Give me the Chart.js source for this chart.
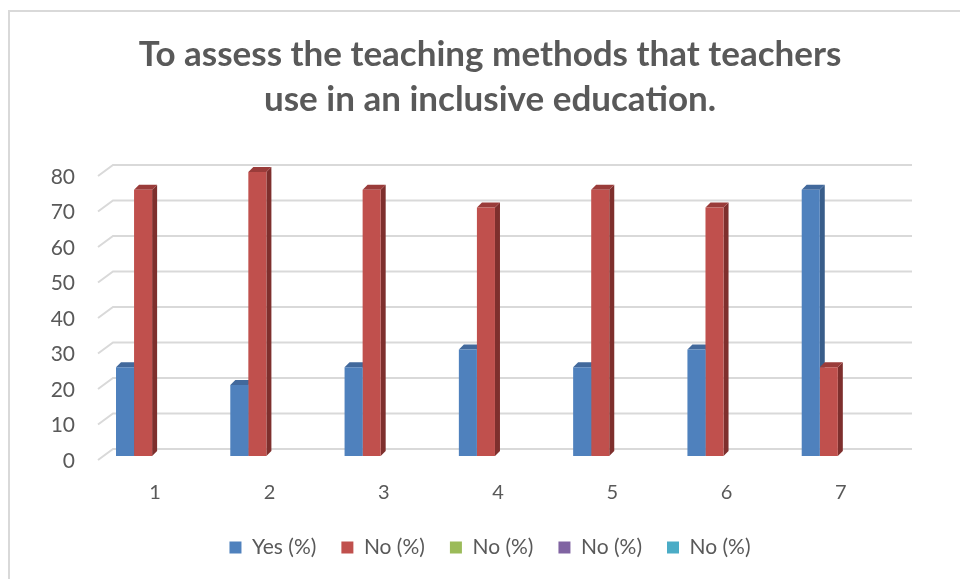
<!DOCTYPE html>
<html>
<head>
<meta charset="utf-8">
<script src="https://cdn.jsdelivr.net/npm/chart.js@4.4.0/dist/chart.umd.min.js"></script>
<style>
  html, body { margin: 0; padding: 0; background: #fff; }
  #wrap { position: relative; width: 960px; height: 579px; }
  #frame { position: absolute; left: 8px; top: 10px; right: -4px; bottom: -4px;
           border-left: 2px solid #d9d9d9; border-top: 2px solid #d9d9d9; }
  canvas { position: absolute; left: 0; top: 0; }
</style>
</head>
<body>
<div id="wrap">
  <div id="frame"></div>
  <canvas id="chart" width="960" height="579"></canvas>
</div>
<script>
// chart data
var categories = ['1', '2', '3', '4', '5', '6', '7'];
var yesPct = [25, 20, 25, 30, 25, 30, 75];
var noPct = [75, 80, 75, 70, 75, 70, 25];
var emptySeries = [null, null, null, null, null, null, null];
var yTicks = [0, 10, 20, 30, 40, 50, 60, 70, 80];

var textColor = '#595959';
var fontFamily = 'Lato, "Open Sans", sans-serif';

// darker shades for the fake 3d faces
var sideColors = ['#385d8a', '#7e2f2d', '#6f8a3c', '#5a4675', '#2f7f95'];
var topColors = ['#42699c', '#9a3c3a', '#84a548', '#6b5389', '#3a95ad'];

var depthX = 5, depthY = 5;

// draws the back wall gridlines and the side/top faces behind the bar fronts
var fake3d = {
    id: 'fake3d',
    beforeDatasetsDraw: function (chart) {
        var ctx = chart.ctx;
        var area = chart.chartArea;
        var yScale = chart.scales.y;
        ctx.save();
        ctx.strokeStyle = '#d9d9d9';
        ctx.lineWidth = 2;
        yTicks.forEach(function (v) {
            var y = yScale.getPixelForValue(v);
            ctx.beginPath();
            ctx.moveTo(area.left - 6, y + 4);
            ctx.lineTo(area.left + 9, y - 7);
            ctx.lineTo(area.right + 8, y - 7);
            ctx.stroke();
        });
        chart.data.datasets.forEach(function (ds, i) {
            var meta = chart.getDatasetMeta(i);
            meta.data.forEach(function (bar, j) {
                if (ds.data[j] === null || ds.data[j] === undefined) return;
                var l = bar.x - bar.width / 2, r = bar.x + bar.width / 2;
                var t = bar.y, b = bar.base;
                ctx.fillStyle = sideColors[i];
                ctx.beginPath();
                ctx.moveTo(r, t);
                ctx.lineTo(r + depthX, t - depthY);
                ctx.lineTo(r + depthX, b - depthY);
                ctx.lineTo(r, b);
                ctx.closePath();
                ctx.fill();
                ctx.fillStyle = topColors[i];
                ctx.beginPath();
                ctx.moveTo(l, t);
                ctx.lineTo(l + depthX, t - depthY);
                ctx.lineTo(r + depthX, t - depthY);
                ctx.lineTo(r, t);
                ctx.closePath();
                ctx.fill();
            });
        });
        ctx.restore();
    }
};

var ctx = document.getElementById('chart').getContext('2d');
var chart = new Chart(ctx, {
    type: 'bar',
    data: {
        labels: categories,
        datasets: [
            { label: 'Yes (%)', data: yesPct, backgroundColor: '#4f81bd' },
            { label: 'No (%)', data: noPct, backgroundColor: '#c0504d' },
            { label: 'No (%)', data: emptySeries, backgroundColor: '#9bbb59' },
            { label: 'No (%)', data: emptySeries, backgroundColor: '#8064a2' },
            { label: 'No (%)', data: emptySeries, backgroundColor: '#4bacc6' }
        ]
    },
    options: {
        responsive: false,
        animation: false,
        categoryPercentage: 0.79,
        barPercentage: 1.0,
        layout: { padding: { left: 20, right: 0, top: 12, bottom: 11 } },
        plugins: {
            title: {
                display: true,
                text: ['To assess the teaching methods that teachers', 'use in an inclusive education.'],
                color: textColor,
                font: { family: fontFamily, size: 35, weight: 'bold', lineHeight: 1.286 },
                padding: { top: 20, bottom: 50 }
            },
            legend: {
                position: 'bottom',
                labels: {
                    color: textColor,
                    font: { family: fontFamily, size: 21 },
                    boxWidth: 12,
                    boxHeight: 12,
                    padding: 25
                }
            },
            tooltip: { enabled: false }
        },
        scales: {
            x: {
                afterFit: function (scale) { scale.height = scale.height - 18; },
                grid: { display: false, drawTicks: false },
                border: { display: false },
                ticks: { color: textColor, font: { family: fontFamily, size: 20 }, padding: 25, labelOffset: -6 }
            },
            y: {
                min: 0,
                max: 80,
                afterBuildTicks: function (scale) {
                    scale.ticks = yTicks.map(function (v) { return { value: v }; });
                },
                afterFit: function (scale) { scale.width = 84; },
                grid: { display: false, drawTicks: false },
                border: { display: false },
                ticks: { color: textColor, font: { family: fontFamily, size: 21 }, padding: 29, labelOffset: 5 }
            },
            yRight: {
                position: 'right',
                afterFit: function (scale) { scale.width = 56; },
                grid: { display: false, drawTicks: false },
                border: { display: false },
                ticks: { display: false }
            }
        }
    },
    plugins: [fake3d]
});
</script>
</body>
</html>
